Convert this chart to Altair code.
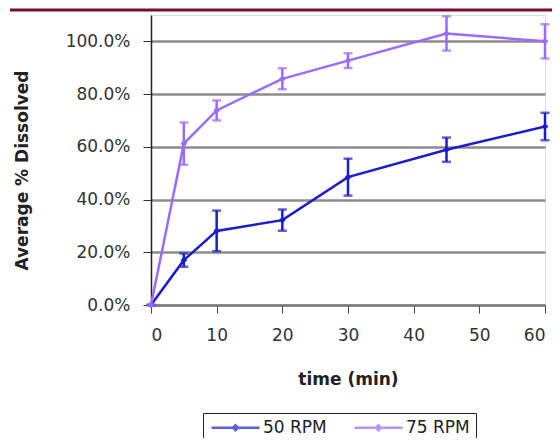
import altair as alt
import pandas as pd

times = [0, 5, 10, 20, 30, 45, 60]
series_names = ["50 RPM", "75 RPM"]
rpm50 = [0.0, 0.170, 0.281, 0.322, 0.485, 0.589, 0.677]
err50 = [0.0, 0.025, 0.077, 0.040, 0.070, 0.046, 0.052]
rpm75 = [0.0, 0.612, 0.738, 0.858, 0.927, 1.030, 1.000]
err75 = [0.0, 0.080, 0.038, 0.040, 0.028, 0.065, 0.065]
y_ticks = [0, 0.2, 0.4, 0.6, 0.8, 1.0]
x_ticks = [0, 10, 20, 30, 40, 50, 60]
colors = ["#1c1ccc", "#9b6bff"]

rows = []
for name, vals, errs in [(series_names[0], rpm50, err50), (series_names[1], rpm75, err75)]:
    for t, v, e in zip(times, vals, errs):
        rows.append({"series": name, "time": t, "value": v, "lo": v - e, "hi": v + e})
df = pd.DataFrame(rows)

W, H = 394, 290

legend_path = "M-1,0L7,0M2.6,0L3,-0.4L3.4,0L3,0.4Z"
legend = alt.Legend(
    orient="none", legendX=52, legendY=398, direction="horizontal", title=None,
    symbolType=legend_path, symbolSize=144, symbolStrokeWidth=2.5,
    labelOffset=37, labelFontSize=17, labelColor="#222", columnPadding=22,
    strokeColor="#222", fillColor="white", padding=6,
)
color = alt.Color("series:N", scale=alt.Scale(domain=series_names, range=colors), legend=legend)

x = alt.X("time:Q", scale=alt.Scale(domain=[0, 60], nice=False),
          axis=alt.Axis(values=x_ticks, labelFontSize=17, labelColor="#333", tickSize=8,
                        tickColor="#444", domainColor="#777", domainWidth=2, grid=False,
                        labelPadding=14, title="time (min)", titleFontSize=17,
                        titleFontWeight="bold", titleColor="#222", titleY=66))
y = alt.Y("value:Q", scale=alt.Scale(domain=[0, 1.1], nice=False),
          axis=alt.Axis(values=y_ticks, format=".1%", labelFontSize=17, labelColor="#333",
                        tickSize=8, tickColor="#333", domainColor="#222", domainWidth=1.5,
                        gridColor="#8c8c8c", gridWidth=2.5, labelPadding=13,
                        title="Average % Dissolved", titleFontSize=17, titleFontWeight="bold",
                        titleColor="#222", titleX=-129, titleY=155, titleBaseline="middle",
                        titleAlign="center"))

base = alt.Chart(df)
err_rule = base.mark_rule(strokeWidth=2.5).encode(x=x, y=alt.Y("lo:Q"), y2="hi:Q", color=color)
cap_lo = base.mark_tick(orient="horizontal", size=9, thickness=2.5).encode(x=x, y=alt.Y("lo:Q"), color=color)
cap_hi = base.mark_tick(orient="horizontal", size=9, thickness=2.5).encode(x=x, y=alt.Y("hi:Q"), color=color)
line = base.mark_line(strokeWidth=2.5).encode(x=x, y=y, color=color)
pts = base.mark_point(shape="diamond", filled=True, size=45, opacity=1).encode(x=x, y=y, color=color)

bar = alt.Chart(pd.DataFrame({"a": [0]})).mark_rule(color="#7b0a2e", strokeWidth=3).encode(
    x=alt.value(-141), x2=alt.value(401), y=alt.value(-5))

chart = alt.layer(line, err_rule, cap_lo, cap_hi, pts, bar).properties(
    width=W, height=H,
    autosize=alt.AutoSizeParams(type="none"),
    padding={"left": 143, "top": 7, "right": 7, "bottom": 133},
).configure_view(stroke="#b8c4c8", strokeWidth=1).configure(font="DejaVu Sans")

chart.save("out.html", embed_options={"renderer": "svg", "actions": False})
